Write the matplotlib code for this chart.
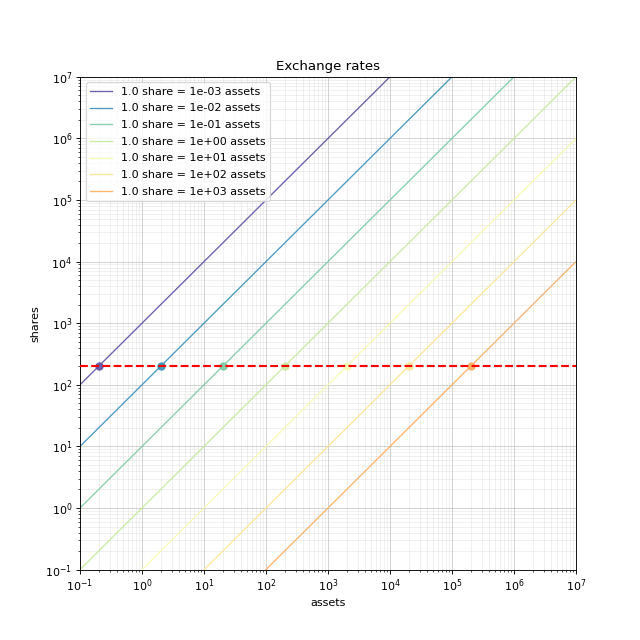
import numpy as np
import matplotlib
matplotlib.use("Agg")
import matplotlib.pyplot as plt

# assets per share for each line
rates = [1e-3, 1e-2, 1e-1, 1e0, 1e1, 1e2, 1e3]
target_shares = 200
assets_range = [1e-1, 1e7]

cmap = plt.get_cmap("Spectral_r")
colors = cmap(np.linspace(0, 0.7, len(rates)))

fig, ax = plt.subplots(figsize=(8, 8), dpi=80)
assets = np.array(assets_range)
for rate, c in zip(rates, colors):
    ax.plot(assets, assets / rate, color=c, lw=1.2, alpha=0.9,
            label=f"1.0 share = {rate:.0e} assets")
    ax.scatter([target_shares * rate], [target_shares], color=c, s=42, alpha=0.9, zorder=3)
ax.axhline(target_shares, color="red", linestyle="--", lw=1.9, zorder=4)

ax.set_xscale("log")
ax.set_yscale("log")
ax.set_xlim(1e-1, 1e7)
ax.set_ylim(1e-1, 1e7)
ax.grid(True, which="major", alpha=0.6)
ax.grid(True, which="minor", alpha=0.2)
ax.set_title("Exchange rates")
ax.set_xlabel("assets")
ax.set_ylabel("shares")
ax.legend(loc="upper left", labelspacing=0.6)
fig.savefig("out.png")
